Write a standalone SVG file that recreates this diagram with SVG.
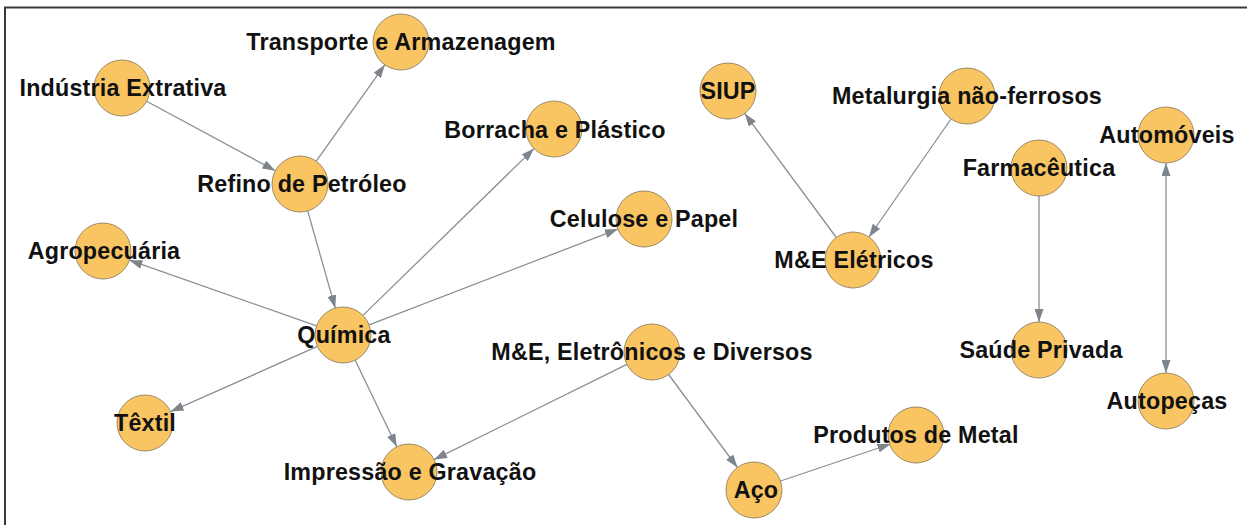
<svg xmlns="http://www.w3.org/2000/svg" width="1247" height="525" viewBox="0 0 1247 525">
  <style>
    .frame { stroke: #3a3a3a; stroke-width: 2; fill: none; }
    .node circle { fill: #F9C462; stroke: #9C8A66; stroke-width: 1; }
    .node text { font-family: "Liberation Sans", Arial, sans-serif; font-weight: bold; font-size: 23.3px; letter-spacing: 0.2px; fill: #111; text-anchor: middle; }
    .edges line { stroke: #8A8F96; stroke-width: 1.3; }
  </style>
  <defs>
    <marker id="arrow" viewBox="0 0 13 9" refX="13" refY="4.5" markerWidth="13" markerHeight="9" orient="auto-start-reverse" markerUnits="userSpaceOnUse">
      <path d="M0,0 L13,4.5 L0,9 z" fill="#7E848C"/>
    </marker>
  </defs>

  <rect width="1247" height="525" fill="#fff"/>
  <!-- outer frame: top and left rules -->
  <path class="frame" d="M5,525 V7.5 H1247"/>

  <!-- connectors -->
  <g id="edges" class="edges" marker-end="url(#arrow)">
    <line x1="146.6" y1="101.3" x2="275.4" y2="170.7"/>
    <line x1="316.2" y1="161.2" x2="384.8" y2="64.8"/>
    <line x1="307.7" y1="210.9" x2="335.3" y2="308.1"/>
    <line x1="316.6" y1="325.8" x2="129.4" y2="260.2"/>
    <line x1="317.4" y1="346.4" x2="170.6" y2="411.6"/>
    <line x1="355.2" y1="360.2" x2="396.8" y2="446.8"/>
    <line x1="363.0" y1="315.4" x2="534.0" y2="148.6"/>
    <line x1="369.1" y1="324.9" x2="617.9" y2="229.1"/>
    <line x1="626.9" y1="364.4" x2="434.1" y2="459.6"/>
    <line x1="668.6" y1="374.5" x2="737.4" y2="467.5"/>
    <line x1="780.5" y1="481.0" x2="890.5" y2="444.0"/>
    <line x1="836.3" y1="237.5" x2="744.7" y2="113.5"/>
    <line x1="951.0" y1="119.0" x2="869.0" y2="237.0"/>
    <line x1="1039" y1="196" x2="1039" y2="322"/>
    <line x1="1166" y1="163" x2="1166" y2="373" marker-start="url(#arrow)"/>
  </g>

  <!-- nodes -->
  <g id="transporte" class="node"><circle cx="401" cy="42" r="28"/><text x="401" y="50">Transporte e Armazenagem</text></g>
  <g id="industria-extrativa" class="node"><circle cx="122" cy="88" r="28"/><text x="123" y="96">Indústria Extrativa</text></g>
  <g id="refino" class="node"><circle cx="300" cy="184" r="28"/><text x="302" y="192">Refino de Petróleo</text></g>
  <g id="borracha" class="node"><circle cx="554" cy="129" r="28"/><text x="555" y="138">Borracha e Plástico</text></g>
  <g id="siup" class="node"><circle cx="728" cy="91" r="28"/><text x="728" y="99">SIUP</text></g>
  <g id="celulose" class="node"><circle cx="644" cy="219" r="28"/><text x="644" y="227">Celulose e Papel</text></g>
  <g id="metalurgia" class="node"><circle cx="967" cy="96" r="28"/><text x="967" y="104">Metalurgia não-ferrosos</text></g>
  <g id="automoveis" class="node"><circle cx="1166" cy="135" r="28"/><text x="1167" y="143">Automóveis</text></g>
  <g id="farmaceutica" class="node"><circle cx="1039" cy="168" r="28"/><text x="1039" y="176">Farmacêutica</text></g>
  <g id="me-eletricos" class="node"><circle cx="853" cy="260" r="28"/><text x="854" y="268">M&amp;E Elétricos</text></g>
  <g id="agropecuaria" class="node"><circle cx="103" cy="251" r="28"/><text x="104" y="259">Agropecuária</text></g>
  <g id="quimica" class="node"><circle cx="343" cy="335" r="28"/><text x="344" y="343">Química</text></g>
  <g id="textil" class="node"><circle cx="145" cy="423" r="28"/><text x="145" y="431">Têxtil</text></g>
  <g id="impressao" class="node"><circle cx="409" cy="472" r="28"/><text x="410" y="480">Impressão e Gravação</text></g>
  <g id="me-eletronicos" class="node"><circle cx="652" cy="352" r="28"/><text x="652" y="360">M&amp;E, Eletrônicos e Diversos</text></g>
  <g id="saude-privada" class="node"><circle cx="1039" cy="350" r="28"/><text x="1041" y="358">Saúde Privada</text></g>
  <g id="autopecas" class="node"><circle cx="1166" cy="401" r="28"/><text x="1167" y="409">Autopeças</text></g>
  <g id="aco" class="node"><circle cx="754" cy="490" r="28"/><text x="756" y="498">Aço</text></g>
  <g id="produtos-metal" class="node"><circle cx="916" cy="435" r="28"/><text x="916" y="443">Produtos de Metal</text></g>
</svg>
